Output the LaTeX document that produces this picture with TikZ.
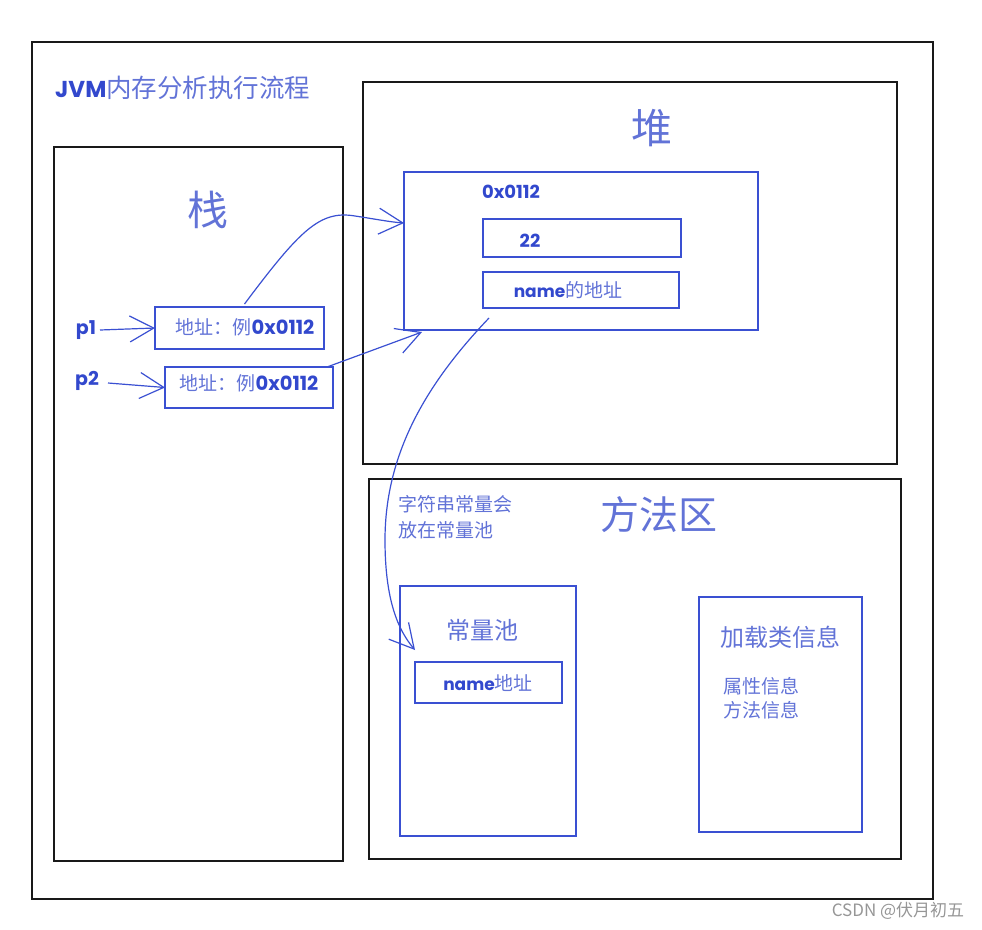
\documentclass[tikz,border=0pt]{standalone}
\usepackage{fontspec}
\setmainfont{Noto Sans CJK SC}
\newfontfamily\cjk{Noto Sans CJK SC}
\newfontfamily\hand{Poppins}
\usetikzlibrary{arrows.meta}
\definecolor{lineblue}{RGB}{58,80,210}
\definecolor{txtblue}{RGB}{98,115,215}
\definecolor{handblue}{RGB}{50,72,205}
\definecolor{wmgray}{RGB}{150,150,150}
\tikzset{
  blackbox/.style={draw=black!90, line width=1.3pt, inner sep=0pt, outer sep=0pt, fill=none},
  bluebox/.style={draw=lineblue, line width=1.4pt, inner sep=0pt, outer sep=0pt},
  cjktxt/.style={text=txtblue, inner sep=0pt, font=\cjk},
  handtxt/.style={text=handblue, inner sep=0pt, font=\hand\bfseries},
  barb/.style={draw=lineblue, line width=1.2pt, -{Straight Barb[length=24pt,width=26pt,line width=1.2pt]}},
}
\begin{document}
\begin{tikzpicture}[x=1pt,y=-1pt]
\useasboundingbox (0,0) rectangle (982,929);
% frames
\node[blackbox, minimum width=901pt, minimum height=857pt] (outer) at (482.5,470.5) {};
\node[blackbox, minimum width=289pt, minimum height=714pt] (stack) at (198.5,504) {};
\node[blackbox, minimum width=534pt, minimum height=382pt] (heap) at (630,273) {};
\node[blackbox, minimum width=532pt, minimum height=380pt] (method) at (635,669) {};
% title
\node[anchor=west, inner sep=0pt] (title) at (55,88) {\textcolor{handblue}{\hand\bfseries\fontsize{23}{26}\selectfont JVM}\textcolor{txtblue}{\cjk\fontsize{25.5}{28}\selectfont 内存分析执行流程}};
% stack
\node[cjktxt, font=\cjk\fontsize{41}{44}\selectfont] (stacklab) at (208,210) {栈};
\node[bluebox, minimum width=169pt, minimum height=42pt] (p1box) at (239.5,328) {};
\node[bluebox, minimum width=168pt, minimum height=41pt] (p2box) at (249,387.5) {};
\node[inner sep=0pt] (p1txt) at (245,327) {\textcolor{txtblue}{\cjk\fontsize{19}{22}\selectfont 地址：例}\textcolor{handblue}{\hand\bfseries\fontsize{19.5}{22}\selectfont 0x0112}};
\node[inner sep=0pt] (p2txt) at (249,383) {\textcolor{txtblue}{\cjk\fontsize{19}{22}\selectfont 地址：例}\textcolor{handblue}{\hand\bfseries\fontsize{19.5}{22}\selectfont 0x0112}};
\node[handtxt, font=\hand\bfseries\fontsize{19}{22}\selectfont] (p1lab) at (86,330) {p1};
\node[handtxt, font=\hand\bfseries\fontsize{19}{22}\selectfont] (p2lab) at (87,381) {p2};
\coordinate (p1s) at (100,330);
\coordinate (p2s) at (108,383);
% heap
\node[cjktxt, font=\cjk\fontsize{41}{44}\selectfont] (heaplab) at (652,128) {堆};
\node[bluebox, minimum width=354pt, minimum height=158pt] (obj) at (581,251) {};
\node[handtxt, font=\hand\bfseries\fontsize{18}{20}\selectfont] (objaddr) at (511,192) {0x0112};
\node[bluebox, minimum width=198pt, minimum height=38pt] (b22) at (582,238) {};
\node[handtxt, font=\hand\bfseries\fontsize{18}{20}\selectfont] (t22) at (530,241) {22};
\node[bluebox, minimum width=196pt, minimum height=36pt] (bname) at (581,290) {};
\node[inner sep=0pt] (tname) at (568,290) {\textcolor{handblue}{\hand\bfseries\fontsize{17}{20}\selectfont name}\textcolor{txtblue}{\cjk\fontsize{19}{22}\selectfont 的地址}};
% method area
\node[cjktxt, font=\cjk\fontsize{39}{42}\selectfont] (methodlab) at (659,515) {方法区};
\node[cjktxt, font=\cjk\fontsize{19}{26}\selectfont, anchor=north west, align=left] (note) at (398,495) {字符串常量会\\放在常量池};
\node[bluebox, minimum width=176pt, minimum height=250pt] (pool) at (488,711) {};
\node[cjktxt, font=\cjk\fontsize{24}{26}\selectfont] (poollab) at (482,630) {常量池};
\node[bluebox, minimum width=147pt, minimum height=41pt] (poolname) at (488.5,682.5) {};
\node[inner sep=0pt] (tpoolname) at (488,683) {\textcolor{handblue}{\hand\bfseries\fontsize{17}{20}\selectfont name}\textcolor{txtblue}{\cjk\fontsize{19}{22}\selectfont 地址}};
\node[bluebox, minimum width=163pt, minimum height=235pt] (cls) at (780.5,714.5) {};
\node[cjktxt, font=\cjk\fontsize{24}{26}\selectfont] (clslab) at (780,637) {加载类信息};
\node[cjktxt, font=\cjk\fontsize{19}{24}\selectfont, anchor=north west, align=left] (clsinfo) at (723,677) {属性信息\\方法信息};
% watermark
\node[text=wmgray, inner sep=0pt, font=\cjk\fontsize{17}{20}\selectfont] (wm) at (898,911) {CSDN @伏月初五};
% arrows
\draw[barb] (p1s) -- (p1box.west);
\draw[barb] (p2s) -- (p2box.west);
\draw[barb] ([xshift=5pt,yshift=3pt]p1box.north) .. controls (300,230) and (320,210) .. (355,216) .. controls (375,219) and (390,222) .. ([yshift=28pt]obj.west);
\draw[barb] ([xshift=-6pt]p2box.north east) -- ([xshift=18pt,yshift=-2pt]obj.south west);
\draw[barb] ([xshift=6pt,yshift=-10pt]bname.south west) .. controls (430,380) and (385,450) .. (385,540) .. controls (385,600) and (398,630) .. ([yshift=12pt]poolname.north west);
\end{tikzpicture}
\end{document}
